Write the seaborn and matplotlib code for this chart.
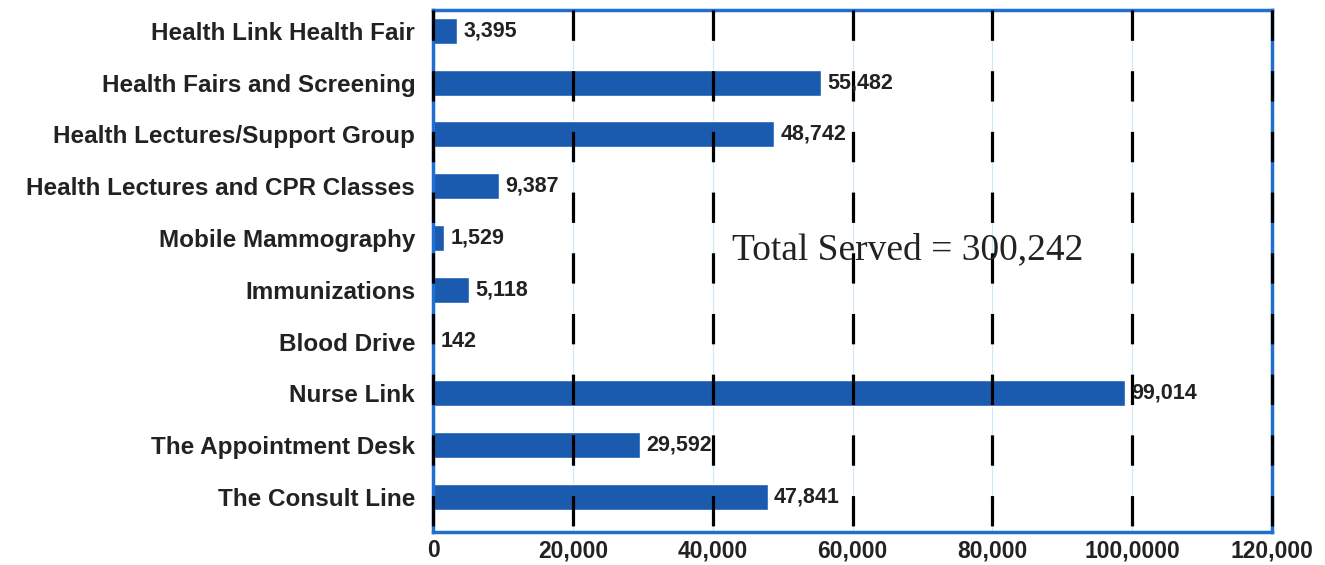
import matplotlib
matplotlib.use("Agg")
import matplotlib.pyplot as plt
import seaborn as sns
import pandas as pd

categories = ["Health Link Health Fair", "Health Fairs and Screening", "Health Lectures/Support Group",
              "Health Lectures and CPR Classes", "Mobile Mammography", "Immunizations", "Blood Drive",
              "Nurse Link", "The Appointment Desk", "The Consult Line"]
values = [3395, 55482, 48742, 9387, 1529, 5118, 142, 99014, 29592, 47841]
tick_values = [0, 20000, 40000, 60000, 80000, 100000, 120000]
tick_labels = ["0", "20,000", "40,000", "60,000", "80,000", "100,0000", "120,000"]

sns.set_theme(style="white")
plt.rcParams['font.family'] = ['Liberation Sans', 'DejaVu Sans']

df = pd.DataFrame({"cat": categories, "val": values})
fig = plt.figure(figsize=(13.25, 5.65), dpi=100)
ax = fig.add_axes([0.327, 0.058, 0.633, 0.925])

trans = ax.get_xaxis_transform()
for x in tick_values:
    if x > 0:
        ax.axvline(x, color="#cfe8f7", lw=0.8, zorder=0)
    ax.plot([x, x], [1, 0], transform=trans, color="black", lw=2.3,
            dashes=(9.5, 9.5), zorder=4, solid_capstyle="butt", dash_capstyle="butt",
            clip_on=False)

sns.barplot(data=df, y="cat", x="val", orient="h", color="#1a5bb0", width=0.5,
            saturation=1, ax=ax, zorder=2)

for i, v in enumerate(values):
    ax.text(v + 900, i, f"{v:,}", va="center", ha="left", fontsize=15.5,
            fontweight="bold", color="#222222", zorder=5)

ax.set_xlim(0, 120000)
ax.set_ylim(9.68, -0.41)
ax.set_xticks(tick_values)
ax.set_xticklabels(tick_labels, fontsize=16.5, fontweight="bold", color="#222222")
ax.set_yticks(range(len(categories)))
ax.set_yticklabels(categories, fontsize=17.5, fontweight="bold", color="#222222")
ax.tick_params(axis="y", length=0, pad=13)
ax.tick_params(axis="x", length=0, pad=5)
ax.set_xlabel("")
ax.set_ylabel("")
for s in ax.spines.values():
    s.set_color("#1f6fd0")
    s.set_linewidth(2.5)
    s.set_zorder(3)

ax.text(0.566, 0.54, "Total Served = 300,242", transform=ax.transAxes, ha="center", va="center",
        fontsize=27, family=["Liberation Serif", "DejaVu Serif"], color="#222222", zorder=6)

fig.savefig("out.png", dpi=100)
